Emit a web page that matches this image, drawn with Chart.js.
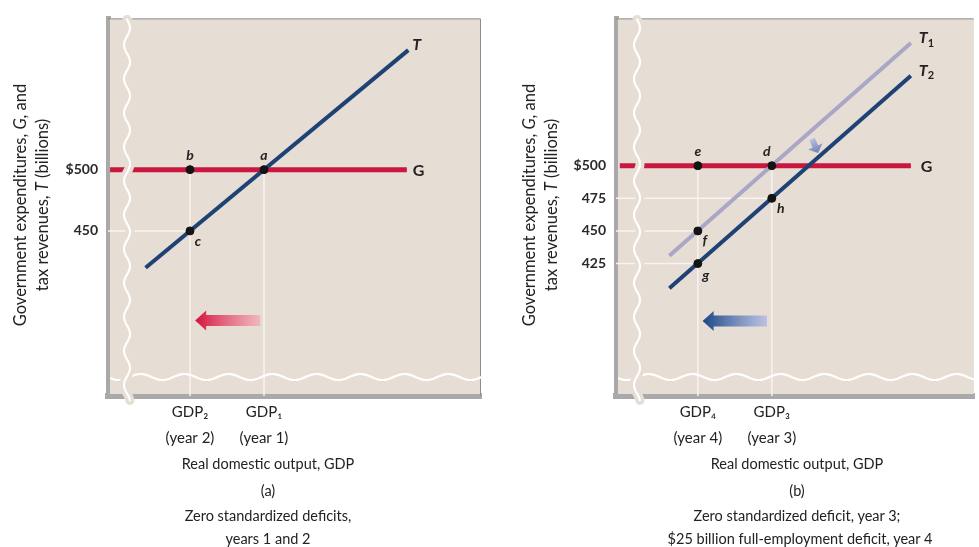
<!DOCTYPE html>
<html>
<head>
<meta charset="utf-8">
<script src="https://cdn.jsdelivr.net/npm/chart.js@4.4.1/dist/chart.umd.min.js"></script>
<style>
html, body { margin: 0; padding: 0; background: #fff; }
#wrap { position: relative; width: 979px; height: 547px; overflow: hidden; font-family: Lato, "Open Sans", sans-serif; color: #222; }
canvas { position: absolute; top: 0; }
.ytitle { position: absolute; width: 340px; text-align: center; font-size: 16.5px; line-height: 22px; white-space: nowrap;
  transform: translate(-50%, -50%) rotate(-90deg); }
.cap { position: absolute; transform: translateX(-50%); white-space: nowrap; font-size: 14.5px; line-height: 18px; }
</style>
</head>
<body>
<div id="wrap">
  <canvas id="chartA" width="490" height="547" style="left:0"></canvas>
  <canvas id="chartB" width="489" height="547" style="left:490px"></canvas>

  <div class="ytitle" style="left:31px; top:205px">Government expenditures, <i>G</i>, and<br>tax revenues, <i>T</i> (billions)</div>
  <div class="ytitle" style="left:540px; top:205px">Government expenditures, <i>G</i>, and<br>tax revenues, <i>T</i> (billions)</div>

  <div class="cap" style="left:268px; top:455px">Real domestic output, GDP</div>
  <div class="cap" style="left:268px; top:482px">(a)</div>
  <div class="cap" style="left:268px; top:507px">Zero standardized deficits,</div>
  <div class="cap" style="left:268px; top:530px">years 1 and 2</div>

  <div class="cap" style="left:797px; top:455px">Real domestic output, GDP</div>
  <div class="cap" style="left:797px; top:482px">(b)</div>
  <div class="cap" style="left:797px; top:507px">Zero standardized deficit, year 3;</div>
  <div class="cap" style="left:800px; top:530px">$25 billion full-employment deficit, year 4</div>
</div>

<script>
// ---- panel (a) data ----
const xTicksA = [20, 40];
const xTickLabelsA = [['GDP₂', '(year 2)'], ['GDP₁', '(year 1)']];
const yTicksA = [450, 500];
const yTickLabelsA = ['450', '$500'];
const gLineA = [[-1.6, 500], [78.6, 500]];
const tLineA = [[8, 420], [79, 597.5]];
const pointNamesA = ['b', 'a', 'c'];
const pointXA = [20, 40, 20];
const pointYA = [500, 500, 450];
const shiftArrowA = [[39, 377], [21.4, 377]];

// ---- panel (b) data ----
const xTicksB = [20, 40];
const xTickLabelsB = [['GDP₄', '(year 4)'], ['GDP₃', '(year 3)']];
const yTicksB = [425, 450, 475, 500];
const yTickLabelsB = ['425', '450', '475', '$500'];
const gLineB = [[-1.1, 500], [77.6, 500]];
const t1LineB = [[12.3, 431], [77.6, 594]];
const t2LineB = [[12.3, 406], [77.6, 569]];
const pointNamesB = ['e', 'd', 'f', 'g', 'h'];
const pointXB = [20, 40, 20, 20, 40];
const pointYB = [500, 500, 450, 425, 475];
const shiftArrowB = [[38.7, 381], [21.3, 381]];
const downArrowB = [[50.9, 520.5], [52.5, 509.8]];

const FONT = 'Lato, "Open Sans", sans-serif';
const BG = '#e6ded4';
const AXIS_GREY = '#a9a9a9';

const toXY = arr => arr.map(p => ({ x: p[0], y: p[1] }));

function lineSet(arr, color, width, order) {
    return { data: toXY(arr), showLine: true, borderColor: color, borderWidth: width,
             pointRadius: 0, order: order, borderCapStyle: 'butt' };
}

// white guide lines: drops from each point to the axes
function guideSets(xs, ys, xMin, yMin) {
    const sets = [];
    xs.forEach((x, i) => {
        if (ys[i] === 500) sets.push(lineSet([[x, ys[i]], [x, yMin]], '#f7f4f0', 1.5, 5));
        else sets.push(lineSet([[xMin, ys[i]], [x, ys[i]]], '#f7f4f0', 1.5, 5));
    });
    return sets;
}

function wavePath(ctx, x, y, len, vertical, amp, period, phase) {
    ctx.beginPath();
    for (let t = 0; t <= len; t += 1) {
        const o = amp * Math.sin(2 * Math.PI * t / period + phase);
        if (vertical) {
            if (t === 0) ctx.moveTo(x + o, y + t); else ctx.lineTo(x + o, y + t);
        } else {
            if (t === 0) ctx.moveTo(x + t, y + o); else ctx.lineTo(x + t, y + o);
        }
    }
}

function drawArrow(ctx, x0, y0, x1, y1, c0, c1, shaft, headLen, headHalf) {
    // arrow from tail (x0,y0) to tip (x1,y1)
    const ang = Math.atan2(y1 - y0, x1 - x0);
    const len = Math.hypot(x1 - x0, y1 - y0);
    ctx.save();
    ctx.translate(x0, y0);
    ctx.rotate(ang);
    const grad = ctx.createLinearGradient(0, 0, len, 0);
    grad.addColorStop(0, c1);
    grad.addColorStop(1, c0);
    ctx.fillStyle = grad;
    ctx.beginPath();
    ctx.moveTo(0, -shaft / 2);
    ctx.lineTo(len - headLen, -shaft / 2);
    ctx.lineTo(len - headLen, -headHalf);
    ctx.lineTo(len, 0);
    ctx.lineTo(len - headLen, headHalf);
    ctx.lineTo(len - headLen, shaft / 2);
    ctx.lineTo(0, shaft / 2);
    ctx.closePath();
    ctx.fill();
    ctx.restore();
}

function makePanel(id, p) {
    const decor = {
        id: 'decor' + id,
        beforeDatasetsDraw(chart) {
            const { ctx, chartArea: a } = chart;
            ctx.save();
            ctx.fillStyle = BG;
            ctx.fillRect(a.left + 2, a.top, a.right - a.left - 2, a.bottom - a.top - 2);
            ctx.strokeStyle = '#8e8e8e';
            ctx.lineWidth = 1;
            ctx.beginPath();
            ctx.moveTo(a.left, a.top + 0.5);
            ctx.lineTo(a.right - 0.5, a.top + 0.5);
            if (p.rightBorder) ctx.lineTo(a.right - 0.5, a.bottom);
            ctx.stroke();
            ctx.restore();
        },
        afterDatasetsDraw(chart) {
            const { ctx, chartArea: a, scales: { x, y } } = chart;
            ctx.save();
            // axis-break waves
            ctx.lineCap = 'round';
            wavePath(ctx, a.left + 3, a.bottom - 19, a.right - a.left - 3, false, 3, 44, 0.5);
            ctx.strokeStyle = '#ffffff'; ctx.lineWidth = 2.2; ctx.stroke();
            wavePath(ctx, a.left + p.waveX, a.top + 1, a.bottom - a.top + 4, true, 3, 34, 0);
            ctx.strokeStyle = BG; ctx.lineWidth = 9; ctx.stroke();
            ctx.strokeStyle = '#ffffff'; ctx.lineWidth = 2.2; ctx.stroke();

            // shift arrows
            p.arrows.forEach(ar => {
                drawArrow(ctx, x.getPixelForValue(ar.pts[0][0]), y.getPixelForValue(ar.pts[0][1]),
                          x.getPixelForValue(ar.pts[1][0]), y.getPixelForValue(ar.pts[1][1]),
                          ar.c0, ar.c1, ar.shaft, ar.headLen, ar.headHalf);
            });

            // point labels
            ctx.fillStyle = '#222';
            ctx.font = 'italic bold 14px ' + FONT;
            ctx.textAlign = 'center';
            ctx.textBaseline = 'middle';
            p.names.forEach((n, i) => {
                const px = x.getPixelForValue(p.px[i]);
                const py = y.getPixelForValue(p.py[i]);
                const off = p.labelOffsets[i];
                ctx.fillText(n, px + off[0], py + off[1]);
            });

            // line end labels
            ctx.textAlign = 'left';
            p.lineLabels.forEach(l => {
                const pt = l.at;
                const px = x.getPixelForValue(pt[0]) + l.dx;
                const py = y.getPixelForValue(pt[1]) + l.dy;
                ctx.font = (l.italic ? 'italic ' : '') + 'bold 16px ' + FONT;
                ctx.fillText(l.text, px, py);
                if (l.sub) {
                    const w = ctx.measureText(l.text).width;
                    ctx.font = 'bold 11px ' + FONT;
                    ctx.fillText(l.sub, px + w, py + 5);
                }
            });
            ctx.restore();
        }
    };

    const pts = p.px.map((v, i) => ({ x: v, y: p.py[i] }));
    const datasets = [
        { data: pts, showLine: false, pointRadius: 4, pointBackgroundColor: '#141414',
          pointBorderColor: '#141414', order: 0 }
    ].concat(p.lines).concat(guideSets(p.px, p.py, p.xMin, p.yMin));

    return new Chart(document.getElementById(id), {
        type: 'scatter',
        data: { datasets: datasets },
        options: {
            responsive: false,
            animation: false,
            events: [],
            layout: { padding: { left: 0, right: p.padRight, top: 14, bottom: 0 } },
            plugins: { legend: { display: false }, tooltip: { enabled: false } },
            scales: {
                x: {
                    type: 'linear', min: p.xMin, max: p.xMax,
                    afterBuildTicks: s => { s.ticks = p.xTicks.map(v => ({ value: v })); },
                    afterFit: s => { s.height = 151; },
                    grid: { display: false, drawTicks: false },
                    border: { display: true, color: AXIS_GREY, width: 6 },
                    ticks: {
                        padding: 3, color: '#222', autoSkip: false, maxRotation: 0,
                        font: { family: FONT, size: 15, lineHeight: 1.75 },
                        callback: (v, i) => p.xTickLabels[i]
                    }
                },
                y: {
                    type: 'linear', min: p.yMin, max: p.yMax,
                    afterBuildTicks: s => { s.ticks = p.yTicks.map(v => ({ value: v })); },
                    afterFit: s => { s.width = p.axisLeft; },
                    grid: { display: false, drawTicks: false },
                    border: { display: true, color: AXIS_GREY, width: 5 },
                    ticks: {
                        padding: 10, color: '#2a2a2a',
                        font: { family: FONT, size: 14, weight: 'bold' },
                        callback: (v, i) => p.yTickLabels[i]
                    }
                }
            }
        },
        plugins: [decor]
    });
}

makePanel('chartA', {
    xMin: -2.16, xMax: 98.65, yMin: 315.3, yMax: 623.4, axisLeft: 108, padRight: 9,
    rightBorder: true, waveX: 19,
    xTicks: xTicksA, xTickLabels: xTickLabelsA, yTicks: yTicksA, yTickLabels: yTickLabelsA,
    px: pointXA, py: pointYA, names: pointNamesA,
    labelOffsets: [[0, -14], [0, -14], [8, 11]],
    lines: [
        lineSet(tLineA, '#1f4274', 4, 1),
        lineSet(gLineA, '#c9173f', 5, 2)
    ],
    lineLabels: [
        { text: 'T', at: tLineA[1], dx: 4, dy: -5, italic: true },
        { text: 'G', at: gLineA[1], dx: 6, dy: 1, italic: false }
    ],
    arrows: [
        { pts: shiftArrowA, c0: '#d4123c', c1: 'rgba(244,170,182,0.75)', shaft: 11, headLen: 11, headHalf: 10 }
    ]
});

makePanel('chartB', {
    xMin: -2.13, xMax: 94.67, yMin: 323.5, yMax: 612.9, axisLeft: 126, padRight: 0,
    rightBorder: false, waveX: 21,
    xTicks: xTicksB, xTickLabels: xTickLabelsB, yTicks: yTicksB, yTickLabels: yTickLabelsB,
    px: pointXB, py: pointYB, names: pointNamesB,
    labelOffsets: [[0, -14], [-5, -14], [7, 10], [8, 12], [9, 10]],
    lines: [
        lineSet(t2LineB, '#1f4274', 4, 1),
        lineSet(t1LineB, '#aaa6c6', 4, 2),
        lineSet(gLineB, '#c9173f', 5, 3)
    ],
    lineLabels: [
        { text: 'T', sub: '1', at: t1LineB[1], dx: 8, dy: -5, italic: true },
        { text: 'T', sub: '2', at: t2LineB[1], dx: 8, dy: -5, italic: true },
        { text: 'G', at: gLineB[1], dx: 10, dy: 1, italic: false }
    ],
    arrows: [
        { pts: shiftArrowB, c0: '#1b4584', c1: 'rgba(178,186,230,0.8)', shaft: 11, headLen: 11, headHalf: 10 },
        { pts: downArrowB, c0: '#6f80b4', c1: '#b9c2df', shaft: 6, headLen: 7, headHalf: 8 }
    ]
});
</script>
</body>
</html>
